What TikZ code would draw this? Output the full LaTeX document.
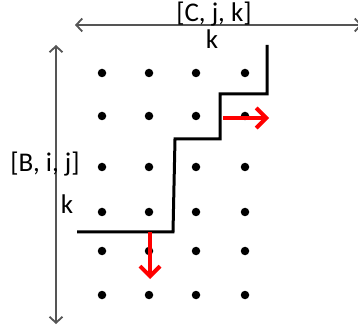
\documentclass[tikz,border=0pt]{standalone}
\usepackage{fontspec}
\setmainfont{Carlito}
\usetikzlibrary{positioning,arrows.meta}
\definecolor{cgray}{HTML}{555555}
\definecolor{cred}{HTML}{FF0000}
\tikzset{
  lbl/.style   ={font=\fontsize{27}{29}\selectfont,inner sep=0pt},
  dimarr/.style={{Straight Barb[length=6pt,width=13pt]}-{Straight Barb[length=6pt,width=13pt]},line width=1.8pt,cgray},
  dotpt/.style ={circle,fill=black,inner sep=0pt,minimum size=8.5pt},
  stair/.style ={line width=3pt,black},
  move/.style  ={-{Straight Barb[length=10pt,width=20pt]},line width=4pt,cred},
}
\begin{document}
\begin{tikzpicture}[x=1pt,y=-1pt]
 \useasboundingbox (0,0) rectangle (358,328);
 % extents of the two operands
 \coordinate (cl) at (75,25);
 \coordinate (cr) at (362,25);
 \draw[dimarr] (cl) -- (cr);
 \node[lbl] (cname) at (214,14) {[C, j, k]};
 \node[lbl] (ck) at (212,39) {k};
 \coordinate (bt) at (56,45);
 \coordinate (bb) at (56,324);
 \draw[dimarr] (bt) -- (bb);
 \node[lbl] (bname) at (45,164) {[B, i, j]};
 \node[lbl] (bk) at (67,204) {k};
 % grid of points
 \foreach \r/\y in {1/73,2/116,3/167,4/212,5/251,6/295}
  \foreach \c/\x in {1/102,2/149,3/196,4/245}
   \node[dotpt] (p\r\c) at (\x,\y) {};
 % staircase boundary
 \draw[stair] (267,45) -- (267,94) -- (220,94) -- (220,139)
   -- (175,139) -- (173,232) -- (77,232);
 % next steps
 \coordinate (rs) at (223,118);
 \coordinate (re) at (269,118);
 \draw[move] (rs) -- (re);
 \coordinate (ds) at (150,232);
 \coordinate (de) at (150,279);
 \draw[move] (ds) -- (de);
\end{tikzpicture}
\end{document}
